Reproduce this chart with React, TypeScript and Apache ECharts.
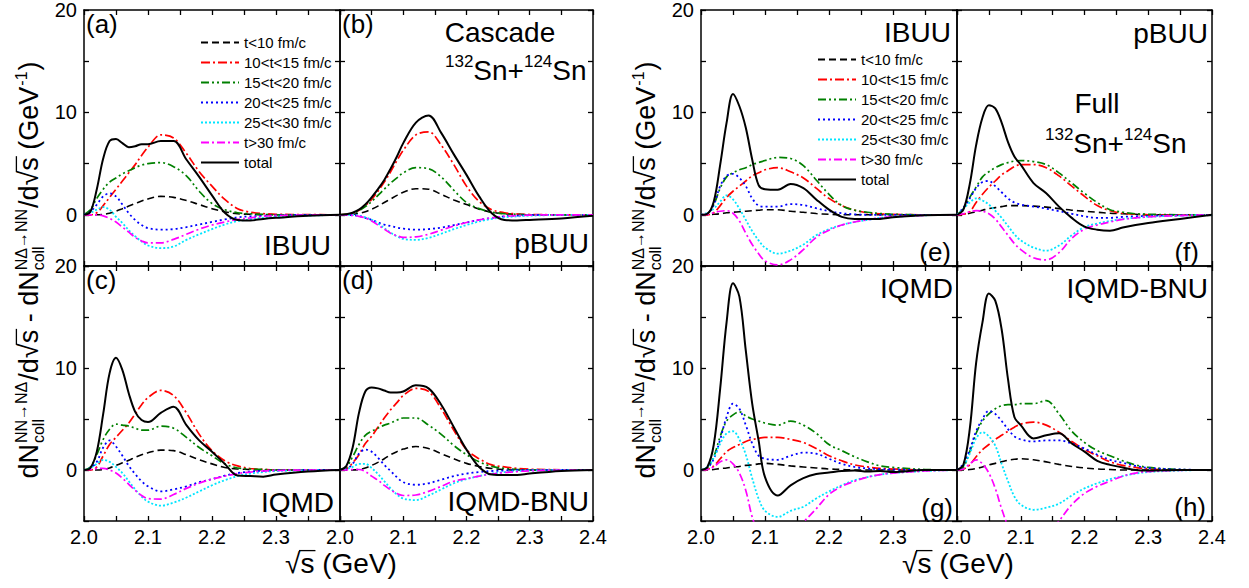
import React, { useEffect, useRef } from "react";
import * as echarts from "echarts";

const FONT = '"Liberation Sans", Arial, Helvetica, sans-serif';

// sqrt(s) sample points (GeV)
const X = [2.0, 2.01, 2.02, 2.03, 2.04, 2.05, 2.06, 2.07, 2.08, 2.09, 2.1, 2.12, 2.14, 2.16, 2.18, 2.2, 2.22, 2.24, 2.26, 2.28, 2.3, 2.35, 2.4];

const NAMES = ["t<10 fm/c", "10<t<15 fm/c", "15<t<20 fm/c", "20<t<25 fm/c", "25<t<30 fm/c", "t>30 fm/c", "total"];

// (a) IBUU cascade
const A_T10 = [0, 0, 0, 0.05, 0.15, 0.35, 0.6, 0.85, 1.1, 1.35, 1.55, 1.8, 1.7, 1.4, 1.0, 0.6, 0.3, 0.1, 0.05, 0, 0, 0, 0];
const A_T15 = [0, 0, 0.2, 0.9, 1.7, 2.5, 3.3, 4.1, 4.9, 5.8, 6.6, 7.8, 7.5, 6.0, 4.2, 2.8, 1.5, 0.6, 0.25, 0.12, 0.05, 0.02, 0];
const A_T20 = [0, 0.5, 1.6, 2.5, 3.2, 3.6, 4.0, 4.3, 4.6, 4.85, 5.0, 5.1, 4.7, 3.8, 2.3, 1.1, 0.5, 0.2, 0.1, 0.05, 0, 0, 0];
const A_T25 = [0, 0.3, 1.0, 1.8, 2.1, 1.8, 1.0, 0.15, -0.5, -1.0, -1.3, -1.45, -1.4, -1.2, -0.95, -0.7, -0.45, -0.25, -0.15, -0.1, -0.05, 0, 0];
const A_T30 = [0, 0.2, 0.5, 0.75, 0.5, -0.2, -0.8, -1.5, -2.1, -2.6, -3.0, -3.25, -3.1, -2.45, -1.9, -1.4, -0.95, -0.6, -0.45, -0.3, -0.2, -0.08, 0];
const A_T30P = [0, 0, 0, -0.1, -0.35, -0.7, -1.2, -1.7, -2.2, -2.55, -2.75, -2.75, -2.4, -1.9, -1.4, -1.0, -0.7, -0.45, -0.3, -0.15, -0.08, -0.02, 0];
const A_TOT = [0, 0.3, 2.5, 5.5, 7.2, 7.4, 7.0, 6.6, 6.7, 6.9, 6.9, 7.2, 7.2, 5.4, 3.7, 1.9, 0.2, -0.5, -0.55, -0.4, -0.3, -0.1, 0];

// (b) pBUU cascade
const B_T10 = [0, 0, 0.05, 0.15, 0.3, 0.55, 0.85, 1.2, 1.55, 1.9, 2.2, 2.55, 2.5, 2.0, 1.45, 1.0, 0.55, 0.25, 0.1, 0.05, 0, 0, 0];
const B_T15 = [0, 0.05, 0.2, 0.45, 0.9, 1.5, 2.3, 3.2, 4.2, 5.3, 6.3, 7.8, 8.1, 6.8, 4.9, 2.8, 1.3, 0.5, 0.2, 0.08, 0.03, 0, 0];
const B_T20 = [0, 0.05, 0.15, 0.4, 0.8, 1.3, 1.9, 2.5, 3.1, 3.6, 4.1, 4.6, 4.5, 3.7, 2.4, 1.2, 0.6, 0.25, 0.1, 0.05, 0, 0, 0];
const B_T25 = [0, 0, -0.05, -0.1, -0.3, -0.5, -0.75, -0.95, -1.1, -1.25, -1.35, -1.45, -1.4, -1.25, -1.0, -0.75, -0.5, -0.3, -0.15, -0.08, -0.03, 0, 0];
const B_T30 = [0, 0, 0, -0.1, -0.25, -0.5, -0.85, -1.3, -1.75, -2.1, -2.35, -2.45, -2.25, -1.85, -1.4, -1.0, -0.65, -0.4, -0.25, -0.15, -0.08, -0.02, 0];
const B_T30P = [0, 0, -0.05, -0.15, -0.3, -0.6, -1.0, -1.4, -1.8, -2.05, -2.2, -2.15, -1.9, -1.5, -1.1, -0.75, -0.5, -0.3, -0.15, -0.08, -0.03, 0, 0];
const B_TOT = [0, 0.05, 0.2, 0.5, 1.0, 1.7, 2.5, 3.4, 4.5, 5.7, 7.0, 9.0, 9.7, 8.0, 5.9, 3.9, 1.8, 0.15, -0.5, -0.55, -0.5, -0.35, -0.1];

// (c) IQMD cascade
const C_T10 = [0, 0, 0, 0.05, 0.2, 0.45, 0.7, 0.95, 1.25, 1.5, 1.7, 1.95, 1.9, 1.5, 1.0, 0.6, 0.25, 0.1, 0.05, 0, 0, 0, 0];
const C_T15 = [0, 0, 0.3, 1.4, 2.5, 3.2, 3.9, 4.6, 5.5, 6.4, 7.1, 7.8, 7.3, 5.6, 3.5, 1.9, 0.9, 0.4, 0.15, 0.05, 0, 0, 0];
const C_T20 = [0, 0.3, 1.5, 3.0, 4.0, 4.5, 4.4, 4.3, 4.1, 3.9, 3.9, 4.3, 4.1, 3.2, 2.2, 1.4, 0.6, 0.2, 0.1, 0.05, 0, 0, 0];
const C_T25 = [0, 0.2, 0.8, 2.2, 2.9, 2.3, 1.4, 0.4, -0.4, -1.1, -1.6, -2.1, -1.9, -1.6, -1.2, -0.9, -0.55, -0.3, -0.15, -0.08, -0.03, 0, 0];
const C_T30 = [0, 0.2, 0.6, 1.0, 0.8, 0.3, -0.3, -1.1, -1.9, -2.6, -3.1, -3.5, -3.2, -2.7, -2.1, -1.5, -1.0, -0.6, -0.35, -0.2, -0.1, -0.03, 0];
const C_T30P = [0, 0.05, 0.15, 0.15, 0, -0.3, -0.8, -1.4, -2.0, -2.5, -2.8, -2.85, -2.4, -1.8, -1.3, -0.9, -0.6, -0.35, -0.2, -0.1, -0.05, 0, 0];
const C_TOT = [0, 0.2, 1.8, 5.5, 9.5, 11.0, 9.8, 7.5, 5.7, 4.9, 4.7, 5.6, 6.2, 4.4, 2.9, 1.8, 0.6, -0.55, -0.6, -0.65, -0.45, -0.15, 0];

// (d) IQMD-BNU cascade
const D_T10 = [0, 0, 0, 0.05, 0.2, 0.45, 0.75, 1.1, 1.5, 1.8, 2.05, 2.3, 2.1, 1.6, 1.1, 0.65, 0.35, 0.15, 0.05, 0, 0, 0, 0];
const D_T15 = [0, 0.1, 0.7, 1.5, 2.6, 3.3, 4.2, 5.1, 5.9, 6.6, 7.3, 8.0, 7.7, 6.0, 3.9, 2.0, 1.1, 0.5, 0.3, 0.15, 0.08, 0.02, 0];
const D_T20 = [0, 0.3, 1.3, 2.5, 3.4, 3.8, 4.1, 4.4, 4.6, 4.9, 5.1, 5.1, 4.4, 3.5, 2.4, 1.5, 0.8, 0.35, 0.15, 0.05, 0, 0, 0];
const D_T25 = [0, 0.1, 0.6, 1.6, 2.0, 1.8, 1.2, 0.5, -0.1, -0.7, -1.2, -1.45, -1.3, -0.95, -0.6, -0.35, -0.2, -0.1, -0.05, 0, 0, 0, 0];
const D_T30 = [0, 0.1, 0.3, 0.6, 0.6, 0.2, -0.4, -1.1, -1.8, -2.4, -2.8, -2.95, -2.5, -1.9, -1.3, -0.9, -0.6, -0.35, -0.2, -0.1, -0.05, 0, 0];
const D_T30P = [0, 0, 0.05, 0.05, -0.15, -0.6, -1.0, -1.5, -1.95, -2.3, -2.5, -2.45, -2.1, -1.6, -1.1, -0.85, -0.6, -0.4, -0.25, -0.15, -0.08, -0.02, 0];
const D_TOT = [0, 0.4, 2.2, 5.6, 7.7, 8.1, 8.0, 7.8, 7.6, 7.6, 7.7, 8.3, 8.0, 6.4, 4.2, 2.0, 0.3, -0.45, -0.5, -0.5, -0.35, -0.1, 0];

// (e) IBUU full
const E_T10 = [0, 0.02, 0.05, 0.1, 0.2, 0.25, 0.3, 0.35, 0.4, 0.45, 0.5, 0.5, 0.35, 0.25, 0.12, 0.05, 0, 0, 0, 0, 0, 0, 0];
const E_T15 = [0, 0, 0.2, 0.9, 1.7, 2.3, 2.8, 3.3, 3.8, 4.1, 4.4, 4.6, 4.2, 3.6, 2.6, 1.6, 0.9, 0.45, 0.2, 0.1, 0.05, 0, 0];
const E_T20 = [0, 0.1, 1.0, 2.6, 3.7, 4.1, 4.4, 4.6, 4.9, 5.1, 5.3, 5.6, 5.5, 4.8, 3.4, 2.0, 0.9, 0.45, 0.25, 0.12, 0.05, 0, 0];
const E_T25 = [0, 0.1, 1.0, 2.8, 3.8, 4.0, 3.6, 2.8, 1.6, 0.9, 0.8, 0.8, 1.05, 0.95, 0.65, 0.35, 0.15, 0.05, 0, 0, 0, 0, 0];
const E_T30 = [0, 0.2, 0.6, 1.3, 1.9, 1.5, 0.6, -0.5, -1.6, -2.5, -3.2, -3.8, -3.5, -2.9, -2.0, -1.4, -1.0, -0.7, -0.5, -0.3, -0.2, -0.05, 0];
const E_T30P = [0, 0.05, 0.2, 0.35, 0.4, 0.15, -0.6, -1.8, -2.9, -3.8, -4.5, -4.9, -4.4, -3.4, -2.2, -1.5, -1.0, -0.7, -0.5, -0.3, -0.2, -0.05, 0];
const E_TOT = [0, 0.1, 1.3, 4.9, 9.0, 11.8, 10.6, 8.5, 5.4, 2.9, 2.5, 2.45, 3.0, 2.6, 1.5, 0.5, -0.2, -0.4, -0.4, -0.4, -0.25, -0.05, 0];

// (f) pBUU full
const F_T10 = [0, 0.05, 0.15, 0.3, 0.45, 0.6, 0.7, 0.8, 0.9, 0.9, 0.9, 0.85, 0.75, 0.6, 0.45, 0.35, 0.25, 0.15, 0.1, 0.05, 0, 0, 0];
const F_T15 = [0, 0.05, 0.3, 1.2, 2.0, 2.7, 3.3, 3.9, 4.3, 4.7, 4.9, 4.9, 4.6, 3.8, 2.8, 1.8, 0.9, 0.4, 0.15, 0.05, 0, 0, 0];
const F_T20 = [0, 0.6, 1.7, 2.7, 3.7, 4.2, 4.6, 4.9, 5.1, 5.25, 5.3, 5.2, 4.9, 4.1, 3.1, 2.1, 1.2, 0.5, 0.25, 0.1, 0.05, 0, 0];
const F_T25 = [0, 0.7, 1.6, 2.6, 3.2, 3.3, 2.8, 2.2, 1.6, 1.2, 1.0, 0.8, 0.6, 0.35, 0.1, -0.15, -0.3, -0.3, -0.2, -0.15, -0.1, -0.05, 0];
const F_T30 = [0, 0.6, 1.2, 1.6, 1.4, 1.0, 0.4, -0.3, -1.1, -1.9, -2.5, -3.2, -3.5, -3.0, -2.0, -1.2, -0.85, -0.6, -0.4, -0.3, -0.2, -0.08, 0];
const F_T30P = [0, 0.1, 0.3, 0.4, 0.35, 0.1, -0.4, -1.2, -2.0, -2.8, -3.4, -4.2, -4.4, -3.7, -2.3, -1.4, -1.0, -0.7, -0.45, -0.3, -0.2, -0.08, 0];
const F_TOT = [0, 0.5, 3.0, 6.8, 9.5, 10.7, 10.4, 9.0, 7.1, 5.7, 4.9, 3.1, 2.1, 0.8, -0.3, -1.15, -1.45, -1.55, -1.25, -1.0, -0.8, -0.4, 0];

// (g) IQMD full
const G_T10 = [0, 0, 0.05, 0.15, 0.2, 0.3, 0.35, 0.45, 0.5, 0.6, 0.65, 0.55, 0.4, 0.3, 0.2, 0.1, 0.05, 0, 0, 0, 0, 0, 0];
const G_T15 = [0, 0.05, 0.4, 1.1, 1.8, 2.2, 2.5, 2.8, 3.0, 3.1, 3.2, 3.2, 3.0, 2.7, 2.1, 1.4, 0.9, 0.5, 0.3, 0.15, 0.1, 0, 0];
const G_T20 = [0, 0.2, 1.3, 3.3, 4.8, 5.4, 5.7, 5.3, 5.0, 4.8, 4.6, 4.4, 4.8, 4.4, 3.6, 2.5, 1.9, 1.3, 0.8, 0.4, 0.25, 0.05, 0];
const G_T25 = [0, 0.2, 1.1, 3.0, 5.2, 6.5, 6.0, 4.4, 2.6, 1.4, 1.1, 1.0, 1.4, 1.7, 1.6, 1.1, 0.6, 0.3, 0.15, 0.08, 0.05, 0, 0];
const G_T30 = [0, 0.3, 1.2, 2.6, 3.6, 3.8, 3.0, 1.5, -0.8, -2.8, -4.0, -4.6, -4.0, -3.6, -2.8, -2.1, -1.5, -1.0, -0.7, -0.45, -0.3, -0.1, 0];
const G_T30P = [0, 0.05, 0.3, 0.8, 1.0, 0.6, -0.3, -2.0, -4.6, -6.2, -7.0, -7.3, -6.3, -5.1, -3.8, -2.4, -1.6, -1.1, -0.7, -0.45, -0.3, -0.1, 0];
const G_TOT = [0, 0.3, 2.5, 8.0, 14.5, 18.3, 17.0, 11.7, 6.5, 2.9, -0.7, -2.5, -1.5, -0.8, -0.4, -0.25, -0.1, -0.05, -0.15, -0.1, -0.2, 0, 0];

// (h) IQMD-BNU full
const H_T10 = [0, 0, 0.05, 0.15, 0.3, 0.5, 0.65, 0.8, 0.95, 1.05, 1.1, 1.0, 0.8, 0.55, 0.35, 0.2, 0.1, 0.05, 0, 0, 0, 0, 0];
const H_T15 = [0, 0.1, 0.5, 1.3, 2.0, 2.5, 3.0, 3.4, 3.8, 4.2, 4.5, 4.7, 4.4, 3.7, 2.8, 2.0, 1.4, 0.8, 0.45, 0.25, 0.1, 0, 0];
const H_T20 = [0, 0.3, 1.8, 3.6, 4.8, 5.5, 6.0, 6.3, 6.4, 6.4, 6.5, 6.5, 6.8, 5.5, 3.8, 2.7, 1.9, 1.4, 0.9, 0.5, 0.25, 0.05, 0];
const H_T25 = [0, 0.6, 2.0, 3.8, 5.0, 5.8, 5.5, 4.8, 4.0, 3.3, 3.0, 2.8, 2.9, 2.9, 2.6, 2.1, 1.5, 1.0, 0.7, 0.4, 0.2, 0.05, 0];
const H_T30 = [0, 0.4, 1.6, 3.1, 3.7, 3.3, 2.4, 0.6, -1.1, -2.6, -3.4, -3.9, -3.7, -3.3, -2.5, -1.8, -1.3, -0.9, -0.6, -0.35, -0.2, -0.05, 0];
const H_T30P = [0, 0.1, 0.6, 1.0, 0.6, -0.3, -1.8, -3.8, -5.5, -6.6, -7.2, -7.4, -6.5, -5.0, -3.4, -2.3, -1.6, -1.1, -0.6, -0.3, -0.15, -0.03, 0];
const H_TOT = [0, 0.5, 4.0, 10.5, 14.5, 17.3, 16.6, 13.8, 8.9, 5.2, 4.4, 3.1, 3.4, 3.6, 2.6, 1.8, 0.9, 0.5, 0.25, 0, -0.05, 0, 0];

const PANELS = [
  [A_T10, A_T15, A_T20, A_T25, A_T30, A_T30P, A_TOT],
  [B_T10, B_T15, B_T20, B_T25, B_T30, B_T30P, B_TOT],
  [C_T10, C_T15, C_T20, C_T25, C_T30, C_T30P, C_TOT],
  [D_T10, D_T15, D_T20, D_T25, D_T30, D_T30P, D_TOT],
  [E_T10, E_T15, E_T20, E_T25, E_T30, E_T30P, E_TOT],
  [F_T10, F_T15, F_T20, F_T25, F_T30, F_T30P, F_TOT],
  [G_T10, G_T15, G_T20, G_T25, G_T30, G_T30P, G_TOT],
  [H_T10, H_T15, H_T20, H_T25, H_T30, H_T30P, H_TOT],
];

const Y_TICK_LABELS = [0, 10, 20];
const X_TICK_LABELS = ["2.0", "2.1", "2.2", "2.3", "2.4"];

// layout (pixels)
const GRID_BOX = [
  { left: 84, top: 10, width: 256, height: 256 },
  { left: 340, top: 10, width: 253, height: 256 },
  { left: 84, top: 266, width: 256, height: 255 },
  { left: 340, top: 266, width: 253, height: 255 },
  { left: 701, top: 10, width: 256, height: 256 },
  { left: 957, top: 10, width: 255, height: 256 },
  { left: 701, top: 266, width: 256, height: 255 },
  { left: 957, top: 266, width: 255, height: 255 },
];
// 0 = no x labels, 1 = labels without 2.4, 2 = all labels
const X_LABEL_MODE = [0, 0, 1, 2, 0, 0, 1, 2];
const Y_LABEL_SHOW = [true, false, true, false, true, false, true, false];

const LINE_STYLES = [
  { color: "#000000", type: [7, 4] as any, width: 1.6 },
  { color: "#ff0000", type: [9, 3, 2, 3] as any, width: 1.7 },
  { color: "#008000", type: [8, 3, 2, 3, 2, 3] as any, width: 1.7 },
  { color: "#0000ff", type: [2, 3] as any, width: 1.8 },
  { color: "#00e5ff", type: [2, 2] as any, width: 1.8 },
  { color: "#ff00ff", type: [8, 3, 2, 3] as any, width: 1.7 },
  { color: "#000000", type: "solid" as any, width: 2 },
];

let measureCtx: CanvasRenderingContext2D | null = null;
function mw(text: string, size: number): number {
  if (!measureCtx) {
    const c = document.createElement("canvas");
    measureCtx = c.getContext("2d");
  }
  measureCtx!.font = `${size}px ${FONT}`;
  return measureCtx!.measureText(text).width;
}

function txt(text: string, x: number, y: number, size: number, align = "left", va = "middle"): any {
  return {
    type: "text",
    x,
    y,
    silent: true,
    style: {
      text,
      font: `${size}px ${FONT}`,
      fill: "#000",
      align,
      verticalAlign: va,
      textAlign: align,
      textVerticalAlign: va,
    },
  };
}

function hline(x1: number, x2: number, y: number, w = 1.4): any {
  return { type: "line", silent: true, shape: { x1, y1: y, x2, y2: y }, style: { stroke: "#000", lineWidth: w } };
}

// pieces laid out along a baseline at local y=0 starting at x=0
function buildYLabelPieces(F: number, S: number) {
  const items: any[] = [];
  let x = 0;
  const add = (t: string, size: number, bl: number) => {
    items.push(txt(t, x, bl - 0.35 * size, size));
    x += mw(t, size);
  };
  const scripts = (sup: string, sub: string) => {
    const x0 = x + 1;
    items.push(txt(sup, x0, -0.42 * F - 0.35 * S, S));
    items.push(txt(sub, x0, 0.24 * F - 0.35 * S, S));
    x = x0 + Math.max(mw(sup, S), mw(sub, S)) + 1;
  };
  const radical = () => {
    add("/d", F, 0);
    add("\u221A", F, 0);
    const sx = x;
    add("s", F, 0);
    items.push(hline(sx - 1.5, x + 1, -0.8 * F, 1.3));
  };
  add("dN", F, 0);
  scripts("NN\u2192N\u0394", "coll");
  radical();
  add(" - ", F, 0);
  add("dN", F, 0);
  scripts("N\u0394\u2192NN", "coll");
  radical();
  add(" (GeV", F, 0);
  items.push(txt("-1", x + 1, -0.42 * F - 0.35 * S, S));
  x += mw("-1", S) + 2;
  add(")", F, 0);
  return { items, length: x };
}

function yLabelGroup(baseX: number, centerY: number): any {
  const { items, length } = buildYLabelPieces(27, 16);
  return {
    type: "group",
    x: baseX,
    y: centerY + length / 2,
    rotation: Math.PI / 2,
    silent: true,
    children: items,
  };
}

function xTitle(cx: number, baseline: number): any[] {
  const F = 28;
  const w1 = mw("\u221A", F);
  const w2 = mw("s", F);
  const w3 = mw(" (GeV)", F);
  const x = cx - (w1 + w2 + w3) / 2;
  const c = baseline - 0.35 * F;
  const out = [txt("\u221A", x, c, F), txt("s", x + w1, c, F), txt(" (GeV)", x + w1 + w2, c, F)];
  out.push(hline(x + w1 - 1.5, x + w1 + w2 + 1, baseline - 0.8 * F, 1.3));
  return out;
}

function isotope(left: number, baseline: number): any[] {
  const F = 28;
  const S = 17;
  const out: any[] = [];
  let x = left;
  const push = (t: string, size: number, bl: number) => {
    out.push(txt(t, x, bl - 0.35 * size, size));
    x += mw(t, size);
  };
  push("132", S, baseline - 13);
  push("Sn+", F, baseline);
  push("124", S, baseline - 13);
  push("Sn", F, baseline);
  return out;
}

function xLabelFormatter(mode: number) {
  return (v: number) => {
    const r = Math.round(v * 100);
    if (r % 10 !== 0) return "";
    const idx = Math.round((r - 200) / 10);
    if (idx < 0 || idx >= X_TICK_LABELS.length) return "";
    if (mode === 1 && idx === X_TICK_LABELS.length - 1) return "";
    return X_TICK_LABELS[idx];
  };
}

function buildOption(): any {
  const axisLine = { show: true, onZero: false, lineStyle: { color: "#000", width: 1.5 } };
  const axisTick = { show: true, inside: true, length: 5, lineStyle: { color: "#000", width: 1.3 } };
  const xAxes: any[] = [];
  const yAxes: any[] = [];
  GRID_BOX.forEach((_, i) => {
    const mode = X_LABEL_MODE[i];
    xAxes.push({
      type: "value", gridIndex: i, position: "bottom", min: 2.0, max: 2.4, interval: 0.05,
      axisLine, axisTick, splitLine: { show: false },
      axisLabel: {
        show: mode > 0, formatter: xLabelFormatter(mode), fontSize: 20, color: "#000", fontFamily: FONT,
        margin: 6, showMinLabel: true, showMaxLabel: true,
      },
    });
    xAxes.push({
      type: "value", gridIndex: i, position: "top", min: 2.0, max: 2.4, interval: 0.05,
      axisLine, axisTick, splitLine: { show: false }, axisLabel: { show: false },
    });
    yAxes.push({
      type: "value", gridIndex: i, position: "left", min: -5, max: 20, interval: 5,
      axisLine, axisTick, splitLine: { show: false },
      axisLabel: {
        show: Y_LABEL_SHOW[i],
        formatter: (v: number) => (Y_TICK_LABELS.indexOf(v) >= 0 ? String(v) : ""),
        fontSize: 20, color: "#000", fontFamily: FONT, margin: 7, showMinLabel: true, showMaxLabel: true,
      },
    });
    yAxes.push({
      type: "value", gridIndex: i, position: "right", min: -5, max: 20, interval: 5,
      axisLine, axisTick, splitLine: { show: false }, axisLabel: { show: false },
    });
  });

  const series: any[] = [];
  PANELS.forEach((curves, i) => {
    curves.forEach((ys, k) => {
      const ls = LINE_STYLES[k];
      series.push({
        type: "line",
        name: NAMES[k],
        xAxisIndex: 2 * i,
        yAxisIndex: 2 * i,
        data: X.map((x, j) => [x, ys[j]]),
        smooth: 0.35,
        symbol: "none",
        clip: true,
        silent: true,
        z: k === 6 ? 4 : 3,
        lineStyle: { color: ls.color, type: ls.type, width: ls.width },
        itemStyle: { color: ls.color },
      });
    });
  });

  const legendBase = {
    data: NAMES,
    orient: "vertical",
    itemWidth: 38,
    itemHeight: 14,
    itemGap: 5,
    padding: 0,
    selectedMode: false,
    itemStyle: { opacity: 0 },
    textStyle: { fontSize: 15, color: "#000", fontFamily: FONT },
  };

  const graphics: any[] = [
    txt("(a)", 86, 24, 26),
    txt("(b)", 342, 24, 26),
    txt("(c)", 86, 280, 26),
    txt("(d)", 342, 280, 26),
    txt("(e)", 951, 252, 26, "right"),
    txt("(f)", 1199, 252, 26, "right"),
    txt("(g)", 953, 508, 26, "right"),
    txt("(h)", 1206, 507, 26, "right"),
    txt("IBUU", 331, 245, 28, "right"),
    txt("pBUU", 589, 243, 28, "right"),
    txt("IQMD", 334, 502, 28, "right"),
    txt("IQMD-BNU", 589, 501, 28, "right"),
    txt("IBUU", 951, 32, 28, "right"),
    txt("pBUU", 1208, 33, 28, "right"),
    txt("IQMD", 953, 288, 28, "right"),
    txt("IQMD-BNU", 1208, 288, 28, "right"),
    txt("Cascade", 500, 32, 28, "center"),
    txt("Full", 1097, 103, 28, "center"),
    ...isotope(445, 80),
    ...isotope(1045, 153),
    yLabelGroup(38, 270),
    yLabelGroup(655, 270),
    ...xTitle(341, 573),
    ...xTitle(958, 573),
  ];

  return {
    animation: false,
    backgroundColor: "#ffffff",
    textStyle: { fontFamily: FONT },
    grid: GRID_BOX.map((g) => ({ ...g, containLabel: false })),
    xAxis: xAxes,
    yAxis: yAxes,
    legend: [
      { ...legendBase, left: 200, top: 35 },
      { ...legendBase, left: 817, top: 52 },
    ],
    series,
    graphic: graphics,
  };
}

export default function App() {
  const ref = useRef<HTMLDivElement>(null);
  useEffect(() => {
    if (!ref.current) return;
    const chart = echarts.init(ref.current, null, { renderer: "svg" });
    chart.setOption(buildOption());
    return () => {
      chart.dispose();
    };
  }, []);
  return <div ref={ref} style={{ position: "absolute", left: 0, top: 0, width: 1249, height: 588 }} />;
}
